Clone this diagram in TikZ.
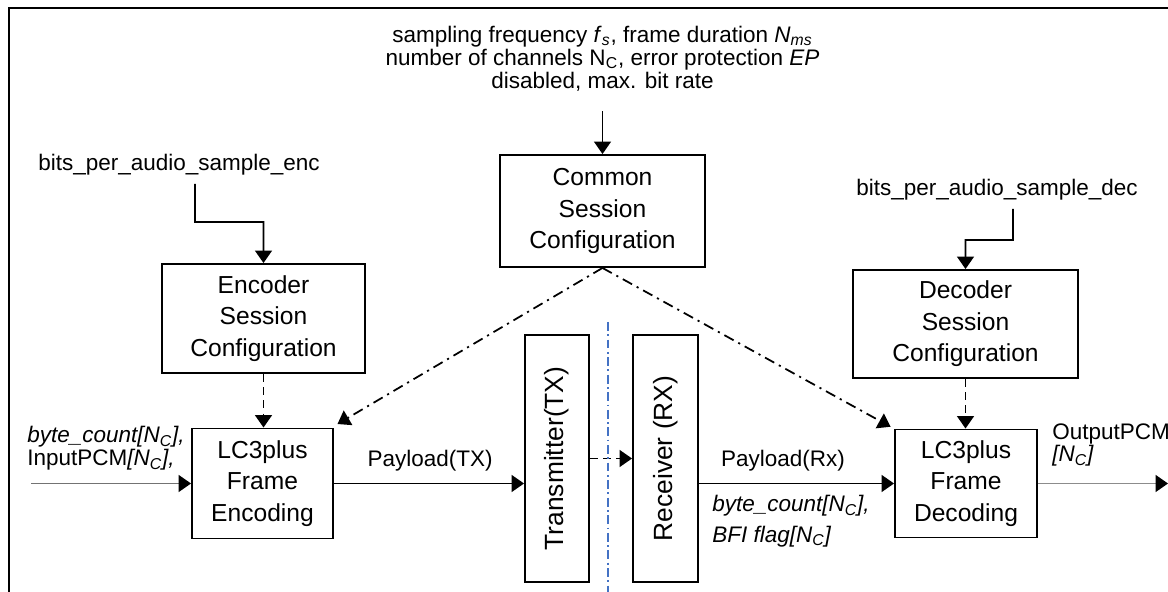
\documentclass[tikz,border=0pt]{standalone}
\usepackage{fontspec}
\setmainfont{Liberation Sans}
\usepackage{graphicx}
\usetikzlibrary{arrows.meta,positioning}

\definecolor{sepblue}{RGB}{68,114,196}

\tikzset{
    block/.style={draw, line width=1.1pt, inner sep=0pt, font=\fontsize{14}{18}\selectfont},
    lbl/.style={inner sep=0pt, font=\fontsize{12.8}{12.5}\selectfont},
    arr/.style={line width=1pt, -{Triangle[length=7pt,width=9.5pt,color=black]}},
    dashedarr/.style={arr, dash pattern=on 4.5pt off 3pt},
    ctrlarr/.style={arr, dash pattern=on 6pt off 3pt on 1.2pt off 3pt},
}

\begin{document}
\begin{tikzpicture}
            \useasboundingbox (0,0) rectangle (23.36,11.84);

            % draw outer frame
            \draw[line width=0.8pt] (0.18,0) -- (0.18,11.68) -- (23.36,11.68);

            % place configuration blocks
            \node[block, minimum width=4.1cm, minimum height=2.24cm] (common) at (12.05,7.62) {\begin{tabular}{c}
                    Common \\ Session \\ Configuration
                \end{tabular}};
            \node[block, minimum width=4.06cm, minimum height=2.18cm] (encconf) at (5.27,5.47) {\begin{tabular}{c}
                    Encoder \\ Session \\ Configuration
                \end{tabular}};
            \node[block, minimum width=4.5cm, minimum height=2.16cm] (decconf) at (19.31,5.36) {\begin{tabular}{c}
                    Decoder \\ Session \\ Configuration
                \end{tabular}};

            % place codec blocks
            \node[block, minimum width=2.82cm, minimum height=2.2cm] (enc) at (5.25,2.17) {\begin{tabular}{c}
                    LC3plus \\ Frame \\ Encoding
                \end{tabular}};
            \node[block, minimum width=2.84cm, minimum height=2.16cm] (dec) at (19.32,2.17) {\begin{tabular}{c}
                    LC3plus \\ Frame \\ Decoding
                \end{tabular}};

            % place transmitter and receiver
            \node[block, minimum width=1.28cm, minimum height=4.94cm] (tx) at (11.14,2.67) {\rotatebox{90}{\fontsize{15}{18}\selectfont Transmitter(TX)}};
            \node[block, minimum width=1.3cm, minimum height=4.94cm] (rx) at (13.31,2.67) {\rotatebox{90}{\fontsize{15}{18}\selectfont Receiver (RX)}};

            % place input labels
            \node[lbl, align=center, font=\fontsize{12.8}{13}\selectfont] (params) at (12.05,10.67) {%
                    sampling frequency \textit{f}\textsubscript{\textit{s}}, frame duration \textit{N}\textsubscript{\textit{ms}} \\
                    number of channels N\textsubscript{C}, error protection \textit{EP} \\
                    disabled, max. bit rate};
            \node[lbl] (bpsenc) at (3.58,8.54) {bits\_per\_audio\_sample\_enc};
            \node[lbl] (bpsdec) at (19.94,8.04) {bits\_per\_audio\_sample\_dec};
            \node[lbl, anchor=west] (inlbl) at (0.54,2.86) {\begin{tabular}{@{}l@{}}
                    \textit{byte\_count[N\textsubscript{C}],} \\ InputPCM\textit{[N\textsubscript{C}],}
                \end{tabular}};
            \node[lbl, anchor=west] (outlbl) at (21.04,2.92) {\begin{tabular}{@{}l@{}}
                    OutputPCM \\ \textit{[N\textsubscript{C}]}
                \end{tabular}};
            \node[lbl] (paytx) at (8.6,2.62) {Payload(TX)};
            \node[lbl] (payrx) at (15.66,2.62) {Payload(Rx)};
            \node[lbl, anchor=west] (rxinfo) at (14.24,1.4) {\begin{tabular}{@{}l@{}}
                    \textit{byte\_count[N\textsubscript{C}],} \\[4.5pt] \textit{BFI flag[N\textsubscript{C}]}
                \end{tabular}};

            % free ends and bends
            \coordinate (encbend) at (3.9,7.4);
            \coordinate (decbend) at (20.26,7.04);
            \coordinate (pcmin) at (0.62,2.17);
            \coordinate (pcmout) at (23.36,2.17);
            \coordinate (septop) at (12.16,5.4);
            \coordinate (sepbot) at (12.16,0);

            % draw configuration inputs
            \draw[arr] ([yshift=-0.4cm]params.south) -- (common.north);
            \draw[arr] ([xshift=0.32cm,yshift=-0.16cm]bpsenc.south) -- (encbend) -| (encconf.north);
            \draw[arr] ([xshift=0.32cm,yshift=-0.16cm]bpsdec.south) -- (decbend) -| (decconf.north);

            % draw configuration links
            \draw[dashedarr] (encconf.south) -- (encconf.south |- enc.north);
            \draw[dashedarr] (decconf.south) -- (decconf.south |- dec.north);
            \draw[ctrlarr] (common.south) -- ([xshift=2pt,yshift=2pt]enc.north east);
            \draw[ctrlarr] (common.south) -- ([xshift=-2pt,yshift=1pt]dec.north west);

            % draw signal path
            \draw[arr, draw=black!55] (pcmin) -- (enc.west);
            \draw[arr] (enc.east) -- (enc.east -| tx.west);
            \draw[dashedarr] (tx.east) -- (rx.west);
            \draw[arr] (rx.east |- dec.west) -- (dec.west);
            \draw[arr, draw=black!45] (dec.east) -- (pcmout);

            % draw separator between transmitter and receiver
            \draw[sepblue, line width=0.6pt, dash pattern=on 5pt off 2pt on 1pt off 2pt] (septop) -- (sepbot);
        \end{tikzpicture}
\end{document}
